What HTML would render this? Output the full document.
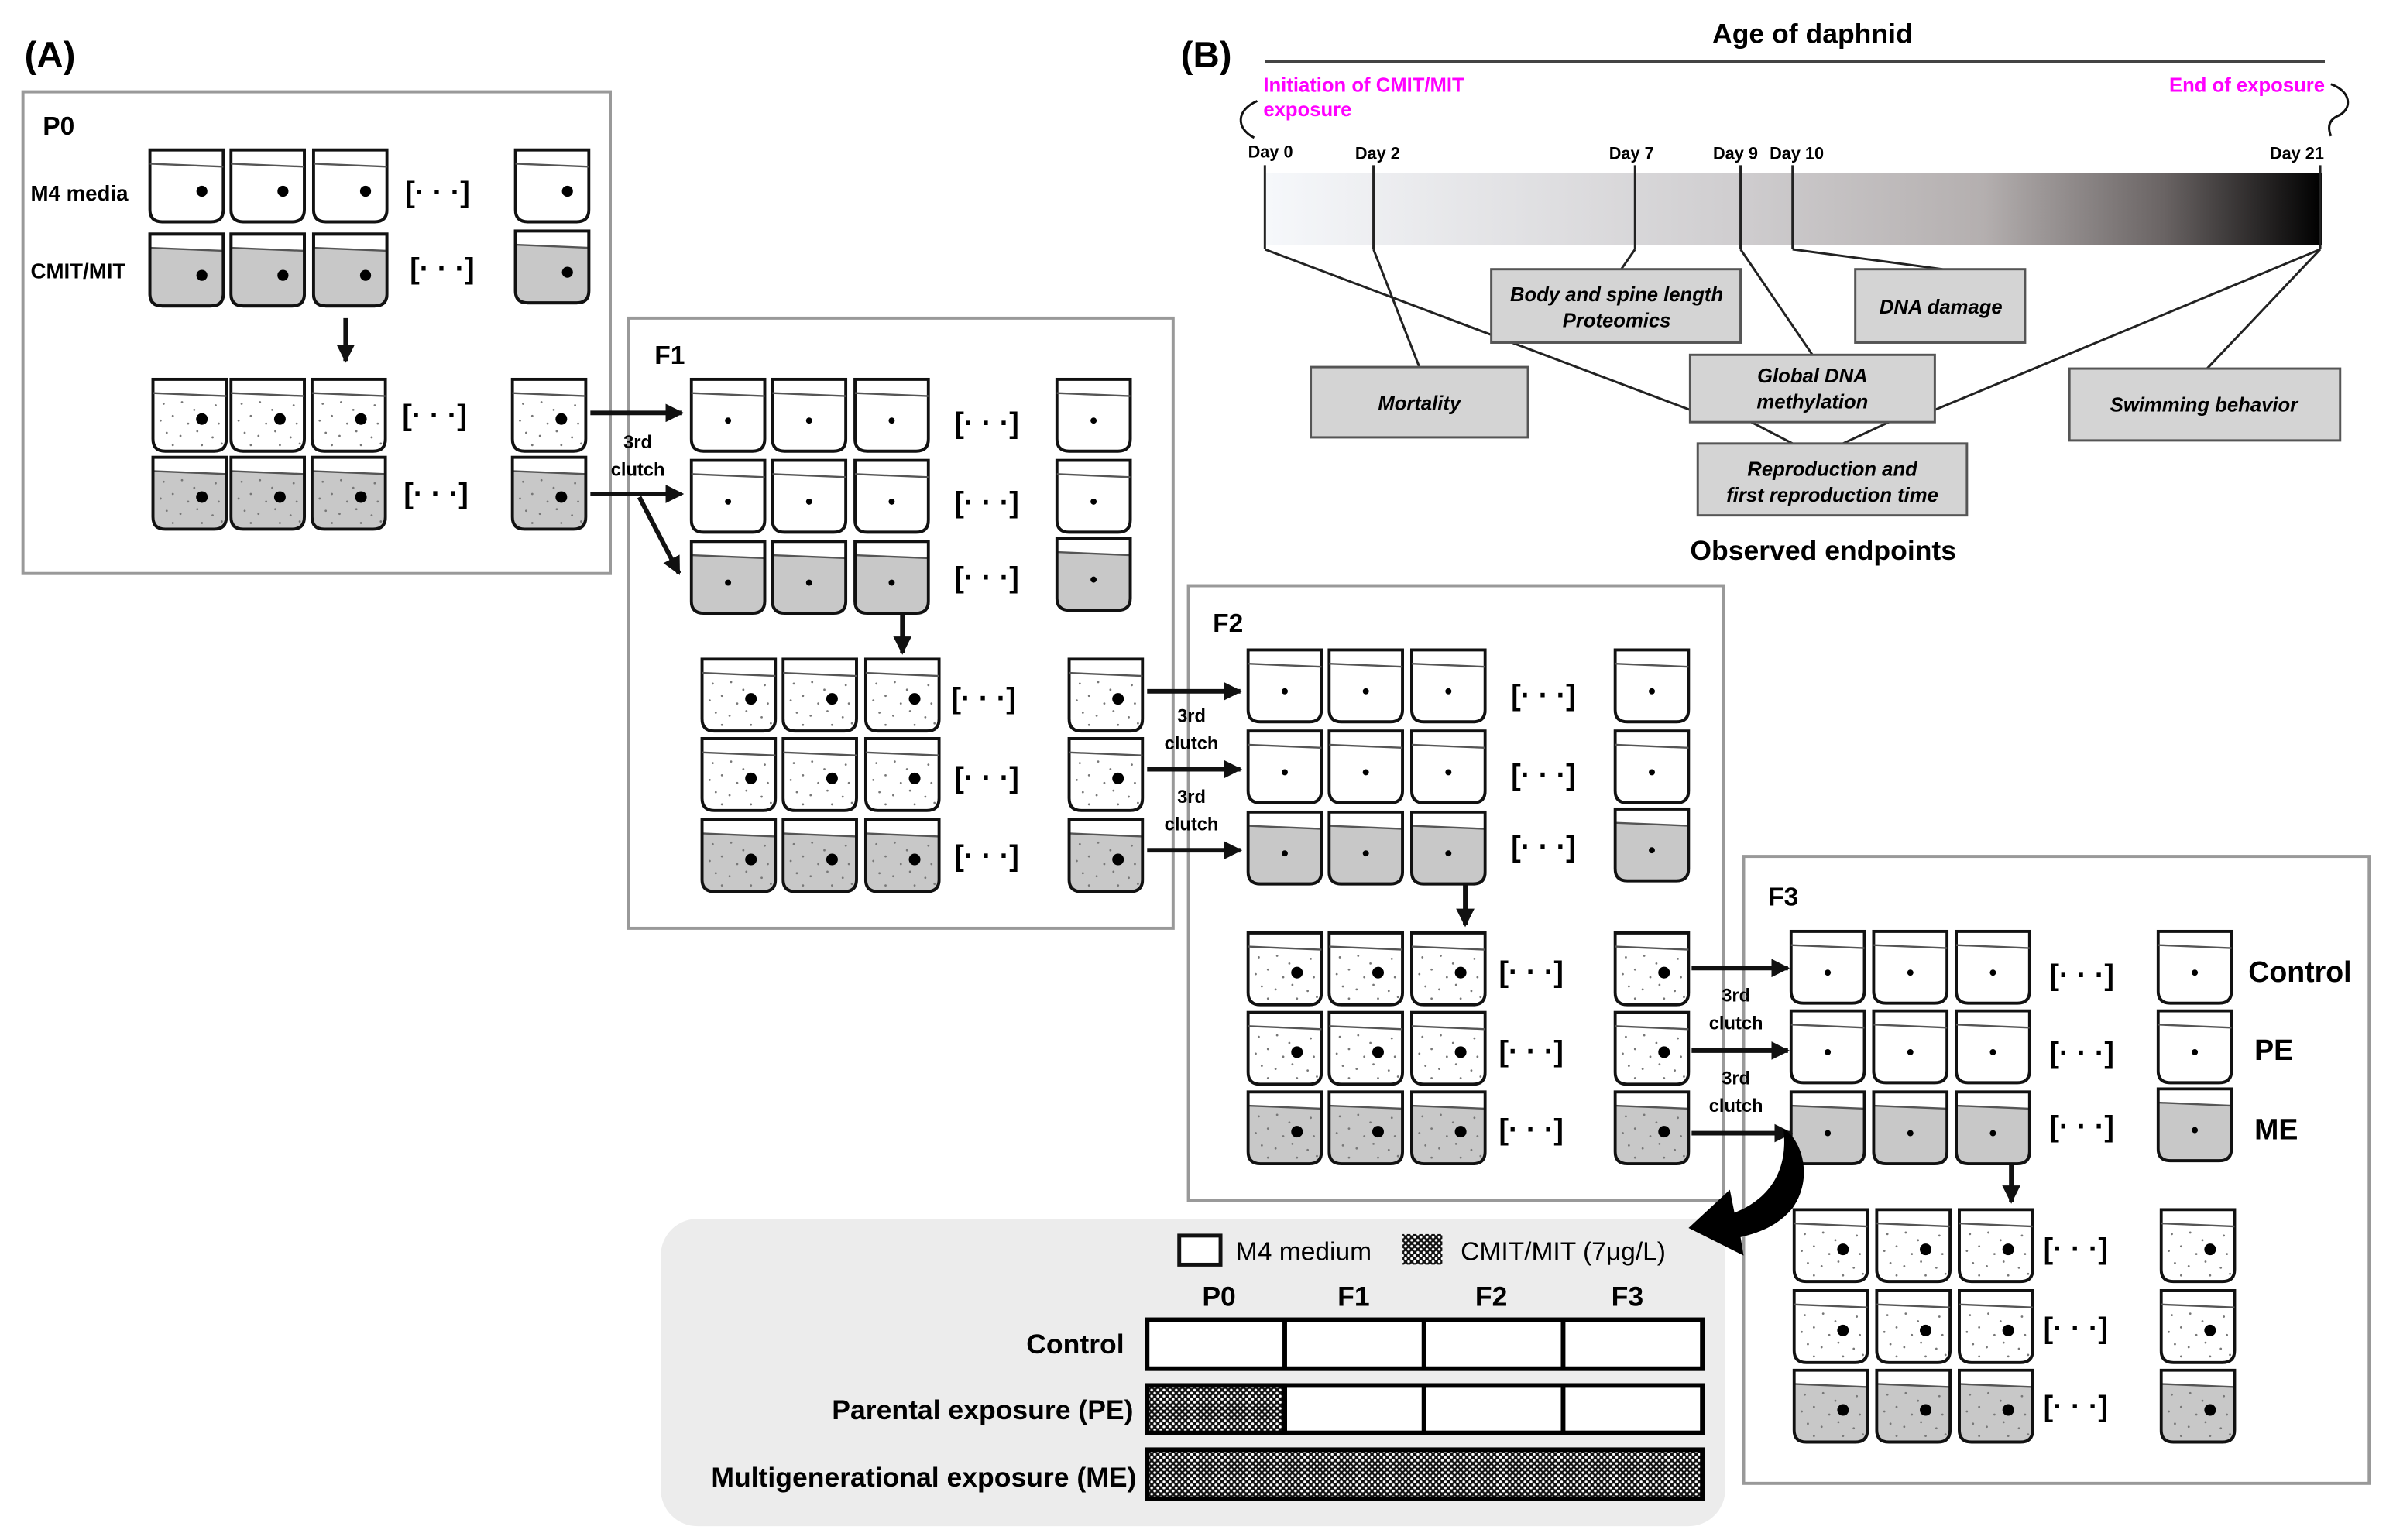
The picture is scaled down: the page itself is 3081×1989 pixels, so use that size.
<!DOCTYPE html>
<html><head><meta charset="utf-8"><style>
html,body{margin:0;padding:0;background:#fff}
svg{display:block}
text{font-family:"Liberation Sans",sans-serif}
</style></head><body>
<svg width="3081" height="1989" viewBox="0 0 1560 1007" xmlns="http://www.w3.org/2000/svg">
<defs>
<pattern id="hatch" width="4" height="4" patternUnits="userSpaceOnUse">
<rect width="4" height="4" fill="#111"/><circle cx="1" cy="1" r="0.9" fill="#fff"/><circle cx="3" cy="3" r="0.9" fill="#fff"/>
</pattern>
<g id="spk" fill="#777">
<circle cx="8" cy="17" r=".7"/><circle cx="20" cy="16" r=".7"/><circle cx="28" cy="21" r=".7"/><circle cx="42" cy="18" r=".7"/><circle cx="6" cy="28" r=".7"/><circle cx="14" cy="25" r=".7"/><circle cx="24" cy="30" r=".7"/><circle cx="44" cy="30" r=".7"/><circle cx="10" cy="36" r=".7"/><circle cx="19" cy="38" r=".7"/><circle cx="30" cy="35" r=".7"/><circle cx="40" cy="39" r=".7"/><circle cx="14" cy="44" r=".7"/><circle cx="33" cy="44" r=".7"/><circle cx="46" cy="43" r=".7"/>
</g>
<symbol id="bw" viewBox="0 0 50 50"><path d="M1,1H49V40Q49,48 41,48H9Q1,48 1,40Z" fill="#fff" stroke="#111" stroke-width="2"/><path d="M1,10L49,12" stroke="#555" stroke-width="1.2"/><circle cx="35" cy="28" r="3.6"/></symbol>
<symbol id="bg" viewBox="0 0 50 50"><path d="M1,1H49V40Q49,48 41,48H9Q1,48 1,40Z" fill="#fff" stroke="#111" stroke-width="2"/><path d="M1,10L49,12V40Q49,48 41,48H9Q1,48 1,40Z" fill="#c8c8c8"/><path d="M1,10L49,12" stroke="#555" stroke-width="1.2"/><path d="M1,1H49V40Q49,48 41,48H9Q1,48 1,40Z" fill="none" stroke="#111" stroke-width="2"/><circle cx="35" cy="28" r="3.6"/></symbol>
<symbol id="sw" viewBox="0 0 50 50"><path d="M1,1H49V40Q49,48 41,48H9Q1,48 1,40Z" fill="#fff" stroke="#111" stroke-width="2"/><path d="M1,10L49,12" stroke="#555" stroke-width="1.2"/><circle cx="25" cy="28" r="2"/></symbol>
<symbol id="sg" viewBox="0 0 50 50"><path d="M1,1H49V40Q49,48 41,48H9Q1,48 1,40Z" fill="#fff"/><path d="M1,10L49,12V40Q49,48 41,48H9Q1,48 1,40Z" fill="#c8c8c8"/><path d="M1,10L49,12" stroke="#555" stroke-width="1.2"/><path d="M1,1H49V40Q49,48 41,48H9Q1,48 1,40Z" fill="none" stroke="#111" stroke-width="2"/><circle cx="25" cy="28" r="2"/></symbol>
<symbol id="dw" viewBox="0 0 50 50"><path d="M1,1H49V40Q49,48 41,48H9Q1,48 1,40Z" fill="#fff" stroke="#111" stroke-width="2"/><path d="M1,10L49,12" stroke="#555" stroke-width="1.2"/><use href="#spk"/><circle cx="33" cy="27" r="3.8"/></symbol>
<symbol id="dg" viewBox="0 0 50 50"><path d="M1,1H49V40Q49,48 41,48H9Q1,48 1,40Z" fill="#fff"/><path d="M1,10L49,12V40Q49,48 41,48H9Q1,48 1,40Z" fill="#c8c8c8"/><path d="M1,10L49,12" stroke="#555" stroke-width="1.2"/><use href="#spk"/><path d="M1,1H49V40Q49,48 41,48H9Q1,48 1,40Z" fill="none" stroke="#111" stroke-width="2"/><circle cx="33" cy="27" r="3.8"/></symbol>
<marker id="ah" viewBox="0 0 10 10" refX="9" refY="5" markerWidth="4" markerHeight="4" orient="auto"><path d="M0,0L10,5L0,10Z" fill="#111"/></marker>
<linearGradient id="grad" x1="0" x2="1"><stop offset="0" stop-color="#f6f8fb"/><stop offset="0.45" stop-color="#cfcdcf"/><stop offset="0.68" stop-color="#b4afaf"/><stop offset="0.85" stop-color="#6a6464"/><stop offset="1" stop-color="#000"/></linearGradient>
</defs>

<text x="16" y="44" font-size="24" font-weight="bold">(A)</text>
<text x="772" y="44" font-size="24" font-weight="bold">(B)</text>

<rect x="15" y="60" width="384" height="315" fill="#fff" stroke="#999" stroke-width="2"/>
<rect x="411" y="208" width="356" height="399" fill="#fff" stroke="#999" stroke-width="2"/>
<rect x="777" y="383" width="350" height="402" fill="#fff" stroke="#999" stroke-width="2"/>
<rect x="1140" y="560" width="409" height="410" fill="#fff" stroke="#999" stroke-width="2"/>

<g font-weight="bold" font-size="17">
<text x="28" y="88">P0</text><text x="428" y="238">F1</text><text x="793" y="413">F2</text><text x="1156" y="592">F3</text>
</g>
<g font-weight="bold" font-size="14">
<text x="20" y="131">M4 media</text><text x="20" y="182">CMIT/MIT</text>
</g>
<g font-weight="bold" font-size="19">
<text x="1470" y="642">Control</text><text x="1474" y="693">PE</text><text x="1474" y="745">ME</text>
</g>

<g>
<use href="#bw" x="97" y="97" width="50" height="50"/><use href="#bw" x="150" y="97" width="50" height="50"/><use href="#bw" x="204" y="97" width="50" height="50"/><use href="#bw" x="336" y="97" width="50" height="50"/>
<use href="#bg" x="97" y="152" width="50" height="50"/><use href="#bg" x="150" y="152" width="50" height="50"/><use href="#bg" x="204" y="152" width="50" height="50"/><use href="#bg" x="336" y="150" width="50" height="50"/>
<use href="#dw" x="99" y="247" width="50" height="50"/><use href="#dw" x="150" y="247" width="50" height="50"/><use href="#dw" x="203" y="247" width="50" height="50"/><use href="#dw" x="334" y="247" width="50" height="50"/>
<use href="#dg" x="99" y="298" width="50" height="50"/><use href="#dg" x="150" y="298" width="50" height="50"/><use href="#dg" x="203" y="298" width="50" height="50"/><use href="#dg" x="334" y="298" width="50" height="50"/>

<use href="#sw" x="451" y="247" width="50" height="50"/><use href="#sw" x="504" y="247" width="50" height="50"/><use href="#sw" x="558" y="247" width="50" height="50"/><use href="#sw" x="690" y="247" width="50" height="50"/>
<use href="#sw" x="451" y="300" width="50" height="50"/><use href="#sw" x="504" y="300" width="50" height="50"/><use href="#sw" x="558" y="300" width="50" height="50"/><use href="#sw" x="690" y="300" width="50" height="50"/>
<use href="#sg" x="451" y="353" width="50" height="50"/><use href="#sg" x="504" y="353" width="50" height="50"/><use href="#sg" x="558" y="353" width="50" height="50"/><use href="#sg" x="690" y="351" width="50" height="50"/>
<use href="#dw" x="458" y="430" width="50" height="50"/><use href="#dw" x="511" y="430" width="50" height="50"/><use href="#dw" x="565" y="430" width="50" height="50"/><use href="#dw" x="698" y="430" width="50" height="50"/>
<use href="#dw" x="458" y="482" width="50" height="50"/><use href="#dw" x="511" y="482" width="50" height="50"/><use href="#dw" x="565" y="482" width="50" height="50"/><use href="#dw" x="698" y="482" width="50" height="50"/>
<use href="#dg" x="458" y="535" width="50" height="50"/><use href="#dg" x="511" y="535" width="50" height="50"/><use href="#dg" x="565" y="535" width="50" height="50"/><use href="#dg" x="698" y="535" width="50" height="50"/>

<use href="#sw" x="815" y="424" width="50" height="50"/><use href="#sw" x="868" y="424" width="50" height="50"/><use href="#sw" x="922" y="424" width="50" height="50"/><use href="#sw" x="1055" y="424" width="50" height="50"/>
<use href="#sw" x="815" y="477" width="50" height="50"/><use href="#sw" x="868" y="477" width="50" height="50"/><use href="#sw" x="922" y="477" width="50" height="50"/><use href="#sw" x="1055" y="477" width="50" height="50"/>
<use href="#sg" x="815" y="530" width="50" height="50"/><use href="#sg" x="868" y="530" width="50" height="50"/><use href="#sg" x="922" y="530" width="50" height="50"/><use href="#sg" x="1055" y="528" width="50" height="50"/>
<use href="#dw" x="815" y="609" width="50" height="50"/><use href="#dw" x="868" y="609" width="50" height="50"/><use href="#dw" x="922" y="609" width="50" height="50"/><use href="#dw" x="1055" y="609" width="50" height="50"/>
<use href="#dw" x="815" y="661" width="50" height="50"/><use href="#dw" x="868" y="661" width="50" height="50"/><use href="#dw" x="922" y="661" width="50" height="50"/><use href="#dw" x="1055" y="661" width="50" height="50"/>
<use href="#dg" x="815" y="713" width="50" height="50"/><use href="#dg" x="868" y="713" width="50" height="50"/><use href="#dg" x="922" y="713" width="50" height="50"/><use href="#dg" x="1055" y="713" width="50" height="50"/>

<use href="#sw" x="1170" y="608" width="50" height="50"/><use href="#sw" x="1224" y="608" width="50" height="50"/><use href="#sw" x="1278" y="608" width="50" height="50"/><use href="#sw" x="1410" y="608" width="50" height="50"/>
<use href="#sw" x="1170" y="660" width="50" height="50"/><use href="#sw" x="1224" y="660" width="50" height="50"/><use href="#sw" x="1278" y="660" width="50" height="50"/><use href="#sw" x="1410" y="660" width="50" height="50"/>
<use href="#sg" x="1170" y="713" width="50" height="50"/><use href="#sg" x="1224" y="713" width="50" height="50"/><use href="#sg" x="1278" y="713" width="50" height="50"/><use href="#sg" x="1410" y="711" width="50" height="50"/>
<use href="#dw" x="1172" y="790" width="50" height="50"/><use href="#dw" x="1226" y="790" width="50" height="50"/><use href="#dw" x="1280" y="790" width="50" height="50"/><use href="#dw" x="1412" y="790" width="50" height="50"/>
<use href="#dw" x="1172" y="843" width="50" height="50"/><use href="#dw" x="1226" y="843" width="50" height="50"/><use href="#dw" x="1280" y="843" width="50" height="50"/><use href="#dw" x="1412" y="843" width="50" height="50"/>
<use href="#dg" x="1172" y="895" width="50" height="50"/><use href="#dg" x="1226" y="895" width="50" height="50"/><use href="#dg" x="1280" y="895" width="50" height="50"/><use href="#dg" x="1412" y="895" width="50" height="50"/>
</g>

<g font-weight="bold" font-size="19">
<text x="265" y="132">[· · ·]</text><text x="268" y="182">[· · ·]</text><text x="263" y="278">[· · ·]</text><text x="264" y="329">[· · ·]</text>
<text x="624" y="283">[· · ·]</text><text x="624" y="335">[· · ·]</text><text x="624" y="384">[· · ·]</text>
<text x="622" y="463">[· · ·]</text><text x="624" y="515">[· · ·]</text><text x="624" y="566">[· · ·]</text>
<text x="988" y="461">[· · ·]</text><text x="988" y="513">[· · ·]</text><text x="988" y="560">[· · ·]</text>
<text x="980" y="642">[· · ·]</text><text x="980" y="694">[· · ·]</text><text x="980" y="745">[· · ·]</text>
<text x="1340" y="644">[· · ·]</text><text x="1340" y="695">[· · ·]</text><text x="1340" y="743">[· · ·]</text>
<text x="1336" y="823">[· · ·]</text><text x="1336" y="875">[· · ·]</text><text x="1336" y="926">[· · ·]</text>
</g>

<g stroke="#111" stroke-width="3" fill="none" marker-end="url(#ah)">
<path d="M226,208V236"/>
<path d="M386,270H446"/><path d="M386,323H446"/><path d="M418,325L444,375"/>
<path d="M590,400V427"/>
<path d="M750,452H811"/><path d="M750,503H811"/><path d="M750,556H811"/>
<path d="M958,578V605"/>
<path d="M1106,633H1169"/><path d="M1106,687H1169"/><path d="M1106,741H1171"/>
<path d="M1315,761V786"/>
</g>
<g font-weight="bold" font-size="12" text-anchor="middle">
<text x="417" y="293">3rd</text><text x="417" y="311">clutch</text>
<text x="779" y="472">3rd</text><text x="779" y="490">clutch</text>
<text x="779" y="525">3rd</text><text x="779" y="543">clutch</text>
<text x="1135" y="655">3rd</text><text x="1135" y="673">clutch</text>
<text x="1135" y="709">3rd</text><text x="1135" y="727">clutch</text>
</g>

<rect x="432" y="797" width="696" height="201" rx="24" fill="#ececec"/>
<path d="M1166,738 C1178,745 1186,770 1172,790 C1162,802 1150,806 1138,809 L1140,821 L1104,803 L1131,778 L1134,793 C1152,786 1170,770 1166,738 Z" fill="#000"/>
<rect x="771" y="808" width="27" height="19" fill="#fff" stroke="#111" stroke-width="2.5"/>
<text x="808" y="824" font-size="17">M4 medium</text>
<rect x="917" y="807" width="26" height="20" fill="url(#hatch)"/>
<text x="955" y="824" font-size="17">CMIT/MIT (7μg/L)</text>
<g font-weight="bold" font-size="18" text-anchor="middle">
<text x="797" y="854">P0</text><text x="885" y="854">F1</text><text x="975" y="854">F2</text><text x="1064" y="854">F3</text>
</g>
<g stroke="#000" stroke-width="3">
<rect x="750" y="863" width="363" height="32" fill="#fff"/>
<rect x="750" y="906" width="363" height="31" fill="#fff"/>
<rect x="750" y="906" width="90" height="31" fill="url(#hatch)"/>
<rect x="750" y="948" width="363" height="32" fill="url(#hatch)"/>
<path d="M840,863V895M931,863V895M1022,863V895M840,906V937M931,906V937M1022,906V937" fill="none"/>
</g>
<g font-weight="bold" font-size="18" text-anchor="end">
<text x="735" y="885">Control</text><text x="741" y="928">Parental exposure (PE)</text><text x="743" y="972">Multigenerational exposure (ME)</text>
</g>

<text x="1185" y="28" font-size="18" font-weight="bold" text-anchor="middle">Age of daphnid</text>
<path d="M827,40H1520" stroke="#444" stroke-width="2"/>
<g fill="#ff00ff" font-size="13" font-weight="bold">
<text x="826" y="60">Initiation of CMIT/MIT</text><text x="826" y="76">exposure</text>
<text x="1520" y="60" text-anchor="end">End of exposure</text>
</g>
<path d="M822,66 C808,72 808,84 820,90" stroke="#111" fill="none" stroke-width="1.5"/>
<path d="M1524,55 C1538,60 1538,72 1528,76 C1522,79 1522,84 1524,89" stroke="#111" fill="none" stroke-width="1.5"/>
<g font-size="11" font-weight="bold">
<text x="816" y="103">Day 0</text><text x="886" y="104">Day 2</text><text x="1052" y="104">Day 7</text><text x="1120" y="104">Day 9</text><text x="1157" y="104">Day 10</text><text x="1484" y="104">Day 21</text>
</g>
<rect x="827" y="113" width="691" height="47" fill="url(#grad)"/>
<g stroke="#222" stroke-width="1.5" fill="none">
<path d="M827,108V163M898,108V163M1069,108V163M1138,108V163M1172,108V163M1517,108V163"/>
<path d="M827,163L1105,268"/><path d="M898,163L928,240"/><path d="M1069,163L1060,176"/>
<path d="M1138,163L1185,232"/><path d="M1172,163L1270,176"/>
<path d="M1517,163L1265,268"/><path d="M1517,163L1443,241"/>
<path d="M1145,276L1172,290"/><path d="M1235,276L1205,290"/>
</g>
<g fill="#d4d4d4" stroke="#555" stroke-width="1.5">
<rect x="975" y="176" width="163" height="48"/><rect x="1213" y="176" width="111" height="48"/>
<rect x="857" y="240" width="142" height="46"/><rect x="1105" y="232" width="160" height="44"/>
<rect x="1353" y="241" width="177" height="47"/><rect x="1110" y="290" width="176" height="47"/>
</g>
<g font-size="13" font-weight="bold" font-style="italic" text-anchor="middle">
<text x="1057" y="197">Body and spine length</text><text x="1057" y="214">Proteomics</text>
<text x="1269" y="205">DNA damage</text>
<text x="928" y="268">Mortality</text>
<text x="1185" y="250">Global DNA</text><text x="1185" y="267">methylation</text>
<text x="1441" y="269">Swimming behavior</text>
<text x="1198" y="311">Reproduction and</text><text x="1198" y="328">first reproduction time</text>
</g>
<text x="1192" y="366" font-size="18" font-weight="bold" text-anchor="middle">Observed endpoints</text>
</svg>
</body></html>
